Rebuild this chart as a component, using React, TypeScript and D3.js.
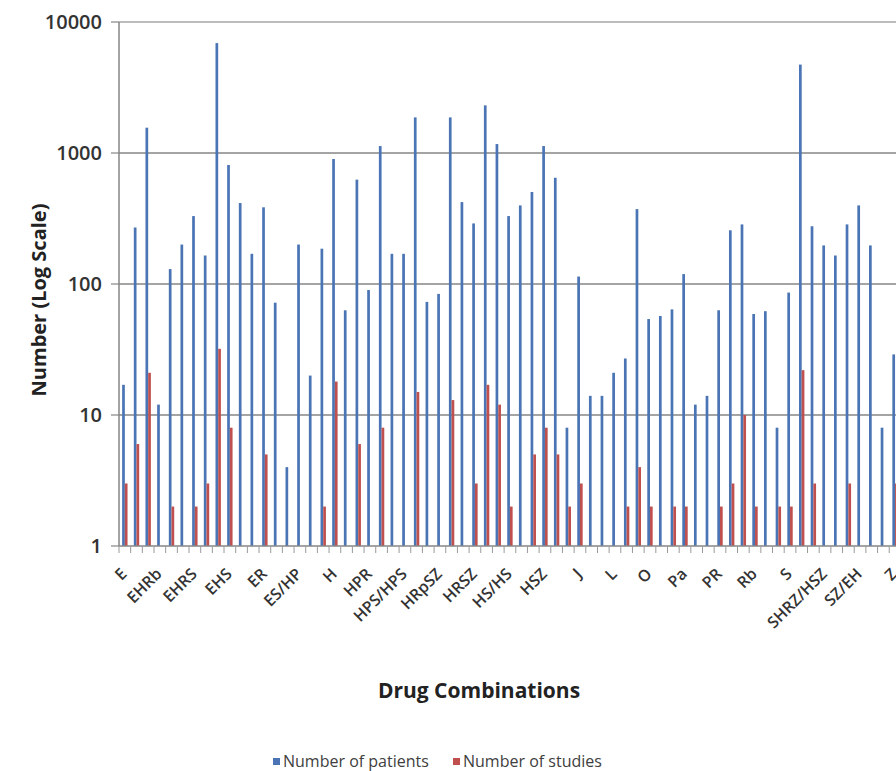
import React from 'react'
import * as d3 from 'd3'

// categories (only every third one is labelled on the axis)
const categories = [
  'E', 'EH', 'EHR', 'EHRb', 'EHRbS', 'EHRP', 'EHRS', 'EHRSZ', 'EHRZ', 'EHS',
  'EHZ', 'EP', 'ER', 'ERS', 'ES', 'ES/HP', 'ESZ', 'EZ', 'H', 'HP',
  'HPO', 'HPR', 'HPRS', 'HPS', 'HPS/HPS', 'HR', 'HRb', 'HRpSZ', 'HRS', 'HRSE',
  'HRSZ', 'HRZ', 'HS', 'HS/HS', 'HSE', 'HSR', 'HSZ', 'HZ', 'HZE', 'J',
  'K', 'KZ', 'L', 'LZ', 'M', 'O', 'OZ', 'P', 'Pa', 'PaZ',
  'PE', 'PR', 'PZ', 'R', 'Rb', 'RbZ', 'RZ', 'S', 'SE', 'SH',
  'SHRZ/HSZ', 'SR', 'SZ', 'SZ/EH', 'T', 'Th', 'Z',
]

const patients = [
  17, 270, 1560, 12, 130, 200, 330, 165, 6900, 810,
  415, 170, 385, 72, 4, 200, 20, 186, 900, 63,
  626, 90, 1130, 170, 170, 1870, 73, 84, 1870, 422,
  290, 2310, 1170, 330, 398, 504, 1130, 647, 8, 114,
  14, 14, 21, 27, 373, 54, 57, 64, 119, 12,
  14, 63, 257, 285, 59, 62, 8, 86, 4730, 276,
  197, 165, 285, 398, 197, 8, 29,
]

const studies = [
  3, 6, 21, 1, 2, 1, 2, 3, 32, 8,
  1, 1, 5, 1, 1, 1, 1, 2, 18, 1,
  6, 1, 8, 1, 1, 15, 1, 1, 13, 1,
  3, 17, 12, 2, 1, 5, 8, 5, 2, 3,
  1, 1, 1, 2, 4, 2, 1, 2, 2, 1,
  1, 2, 3, 10, 2, 1, 2, 2, 22, 3,
  1, 1, 3, 1, 1, 1, 3,
]

const seriesNames = ['Number of patients', 'Number of studies']
const seriesColors = ['#4A74B4', '#C0504D']
const yTicks = [1, 10, 100, 1000, 10000]

const W = 896
const H = 771
const left = 119
const top = 22
const bottom = 546
const step = 11.67

export default function App() {
  const x = d3.scaleBand<string>()
    .domain(categories)
    .range([left, left + step * categories.length])
    .paddingInner(0)
  const bw = x.bandwidth()
  const inner = d3.scaleBand<string>()
    .domain(['p', 's'])
    .range([bw / 2 - 2.7, bw / 2 + 2.7])
  const y = d3.scaleLog().domain([1, 10000]).range([bottom, top])

  const font = '"Open Sans", "Liberation Sans", sans-serif'
  const rows = categories.map((c, i) => ({ c, p: patients[i], s: studies[i] }))

  return (
    <svg width={W} height={H} style={{ position: 'absolute', left: 0, top: 0, background: '#fff' }}
      fontFamily={font}>
      {/* grid */}
      {yTicks.slice(1).map(t => (
        <line key={t} x1={left} x2={W} y1={y(t)} y2={y(t)}
          stroke={t === 10000 ? '#a6a6a6' : '#868686'} strokeWidth={1.5} />
      ))}
      {/* bars */}
      {rows.map(r => (
        <g key={r.c} transform={`translate(${x(r.c)},0)`}>
          <rect x={inner('p')} width={inner.bandwidth()} y={y(r.p)} height={bottom - y(r.p)} fill={seriesColors[0]} />
          <rect x={inner('s')} width={inner.bandwidth()} y={y(r.s)} height={bottom - y(r.s)} fill={seriesColors[1]} />
        </g>
      ))}
      {/* y axis */}
      <line x1={left} x2={left} y1={top} y2={bottom} stroke="#868686" strokeWidth={1.5} />
      {yTicks.map(t => (
        <g key={t}>
          <line x1={left - 8} x2={left} y1={y(t)} y2={y(t)} stroke="#868686" strokeWidth={1.2} />
          <text x={102} y={y(t)} dy="0.35em" textAnchor="end" fontSize={20} fontWeight={600} fill="#333">{t}</text>
        </g>
      ))}
      {/* x axis */}
      <line x1={left} x2={W} y1={bottom} y2={bottom} stroke="#868686" strokeWidth={1.5} />
      {categories.map(c => (
        <line key={c} x1={x(c)} x2={x(c)} y1={bottom} y2={bottom + 7} stroke="#9a9a9a" strokeWidth={1} />
      ))}
      {categories.filter((_, i) => i % 3 === 0).map(c => (
        <text key={c} transform={`translate(${(x(c) ?? 0) + bw / 2 - 5},${bottom + 21}) rotate(-45)`}
          dy="0.71em" textAnchor="end" fontSize={16} fontWeight={600} fill="#333">{c}</text>
      ))}
      {/* titles */}
      <text transform={`translate(46,${300}) rotate(-90)`} textAnchor="middle" fontSize={20} fontWeight={700} fill="#222">
        Number (Log Scale)
      </text>
      <text x={479} y={698} textAnchor="middle" fontSize={21} fontWeight={700} fill="#222">Drug Combinations</text>
      {/* legend */}
      {seriesNames.map((n, i) => {
        const lx = i === 0 ? 273 : 453
        return (
          <g key={n}>
            <rect x={lx} y={758} width={7} height={7} fill={seriesColors[i]} />
            <text x={lx + 10} y={767} fontSize={16} fill="#404040">{n}</text>
          </g>
        )
      })}
    </svg>
  )
}
